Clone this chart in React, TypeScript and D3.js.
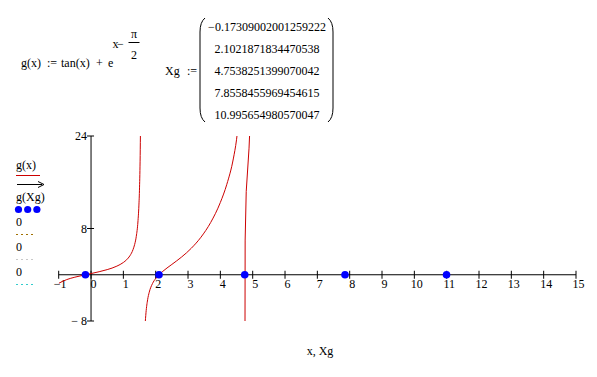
import React from "react";
import * as d3 from "d3";

// Xg roots shown in the matrix
const xgLabels = [
  "\u22120.17309002001259222",
  "2.1021871834470538",
  "4.7538251399070042",
  "7.8558455969454615",
  "10.995654980570047",
];
const xgValues = [-0.17309002001259222, 2.1021871834470538, 4.7538251399070042, 7.8558455969454615, 10.995654980570047];

// curve g(x), branch by branch
const branch1X = [-1, -0.75, -0.5, -0.25, 0, 0.25, 0.5, 0.8, 1.0, 1.1, 1.2, 1.3, 1.35, 1.4, 1.45, 1.48, 1.5, 1.52, 1.53];
const branch1Y = [-1.481, -0.833, -0.42, -0.093, 0.208, 0.522, 0.889, 1.492, 2.123, 2.589, 3.262, 4.365, 5.257, 6.641, 9.124, 11.9, 15.03, 20.62, 25.46];
const branch2X = [1.65, 1.67, 1.7, 1.75, 1.8, 1.9, 2.0, 2.1, 2.2, 2.5, 2.8, 3.1, 3.4, 3.7, 4.0, 4.2, 4.4, 4.5, 4.55];
const branch2Y = [-11.52, -8.94, -6.559, -4.324, -3.028, -1.535, -0.649, -0.012, 0.502, 1.786, 3.063, 4.573, 6.493, 9.033, 12.508, 15.641, 20.028, 23.35, 25.78];
const branch3X = [4.762, 4.767, 4.8, 4.887, 4.95];
const branch3Y = [-10, 6.0, 14.4, 21.9, 30];

const xTicks = [-1, 0, 1, 2, 3, 4, 5, 6, 7, 8, 9, 10, 11, 12, 13, 14, 15];
const yTicks = [24, 8, -8];
const yTickLabels = ["24", "8", "\u2212 8"];

const FONT = "'Liberation Serif', 'Times New Roman', serif";

export default function App() {
  const x = d3.scaleLinear().domain([-1, 15]).range([58.7, 576]);
  const y = d3.scaleLinear().domain([-8, 24]).range([321, 136]);

  const line = d3
    .line<[number, number]>()
    .x((d) => x(d[0]))
    .y((d) => y(d[1]))
    .curve(d3.curveMonotoneX);
  const lin = d3
    .line<[number, number]>()
    .x((d) => x(d[0]))
    .y((d) => y(d[1]));

  const b1 = branch1X.map((v, i) => [v, branch1Y[i]] as [number, number]);
  const b2 = branch2X.map((v, i) => [v, branch2Y[i]] as [number, number]);
  const b3 = branch3X.map((v, i) => [v, branch3Y[i]] as [number, number]);

  const y0 = y(0);
  const red = "#cc0000";

  const parenL = "M205,18 Q200,22 200,32 L200,108 Q200,118 205,122";
  const parenR = "M328,18 Q333,22 333,32 L333,108 Q333,118 328,122";

  return (
    <svg
      width={597}
      height={377}
      style={{ position: "absolute", left: 0, top: 0, background: "#fff" }}
      fontFamily={FONT}
    >
      <rect x={0} y={0} width={597} height={377} fill="#fff" />
      <defs>
        <clipPath id="plotclip">
          <rect x={x(-1)} y={y(24)} width={x(15) - x(-1)} height={y(-8) - y(24)} />
        </clipPath>
      </defs>

      {/* formula */}
      <g fontSize={12} fill="#000">
        <text x={21} y={67}>g(x)</text>
        <text x={47} y={67}>:=</text>
        <text x={61} y={67}>tan(x)</text>
        <text x={96} y={67}>+</text>
        <text x={108} y={67}>e</text>
        <text x={112.5} y={48}>x</text>
        <text x={117} y={48}>{"\u2212"}</text>
        <text x={134} y={38} textAnchor="middle">{"\u03c0"}</text>
        <line x1={128.5} x2={139.5} y1={42.5} y2={42.5} stroke="#000" strokeWidth={1} />
        <text x={134} y={59} textAnchor="middle">2</text>
        <text x={165} y={75}>Xg</text>
        <text x={187} y={75}>:=</text>
        {xgLabels.map((s, i) => (
          <text key={i} x={267} y={31 + i * 22} textAnchor="middle">{s}</text>
        ))}
      </g>
      <path d={parenL} fill="none" stroke="#000" strokeWidth={1} />
      <path d={parenR} fill="none" stroke="#000" strokeWidth={1} />

      {/* legend */}
      <g fontSize={12} fill="#000">
        <text x={16} y={169}>g(x)</text>
        <line x1={16} x2={40} y1={175.5} y2={175.5} stroke={red} strokeWidth={1} />
        <line x1={17} x2={42} y1={184.5} y2={184.5} stroke="#000" strokeWidth={1} />
        <path d="M38,181.5 L44,184.5 L38,187.5" fill="none" stroke="#000" strokeWidth={1} />
        <text x={16} y={201}>g(Xg)</text>
        {[0, 1, 2].map((i) => (
          <circle key={i} cx={18.5 + i * 9.2} cy={209.5} r={3.6} fill="#0000ff" />
        ))}
        <text x={16} y={226}>0</text>
        <line x1={16} x2={36} y1={234.5} y2={234.5} stroke="#a07000" strokeWidth={1} strokeDasharray="2,3" />
        <text x={16} y={251}>0</text>
        <line x1={16} x2={36} y1={259.5} y2={259.5} stroke="#c8c8c8" strokeWidth={1} strokeDasharray="2,3" />
        <text x={16} y={276}>0</text>
        <line x1={16} x2={36} y1={284.5} y2={284.5} stroke="#33cccc" strokeWidth={1} strokeDasharray="2,3" />
      </g>

      {/* axes */}
      <line x1={x(-1)} x2={x(15)} y1={y0} y2={y0} stroke="#000" strokeWidth={1} />
      <line x1={x(0)} x2={x(0)} y1={y(24)} y2={y(-8)} stroke="#000" strokeWidth={1} />
      {xTicks.map((t) => (
        <g key={t}>
          <line x1={x(t)} x2={x(t)} y1={y0 - 4} y2={y0 + 4} stroke="#000" strokeWidth={1} />
          <text
            x={x(t) + (t < 0 ? 1.5 : 2.5)}
            y={288}
            fontSize={12}
            textAnchor="middle"
          >
            {t < 0 ? "\u2212" + Math.abs(t) : String(t)}
          </text>
        </g>
      ))}
      {yTicks.map((t, i) => (
        <g key={t}>
          <line x1={x(0) - 4} x2={x(0) + 3} y1={y(t)} y2={y(t)} stroke="#000" strokeWidth={1} />
          <text x={x(0) - 4} y={y(t) + 4} fontSize={12} textAnchor="end">
            {yTickLabels[i]}
          </text>
        </g>
      ))}

      {/* curve */}
      <g clipPath="url(#plotclip)" fill="none" stroke={red} strokeWidth={1}>
        <path d={line(b1) || ""} />
        <path d={line(b2) || ""} />
        <path d={lin(b3) || ""} />
      </g>

      {/* roots */}
      {xgValues.map((v, i) => (
        <circle key={i} cx={x(v)} cy={y0} r={3.8} fill="#0000ff" />
      ))}

      <text x={320} y={355} fontSize={12} textAnchor="middle">x, Xg</text>
    </svg>
  );
}
